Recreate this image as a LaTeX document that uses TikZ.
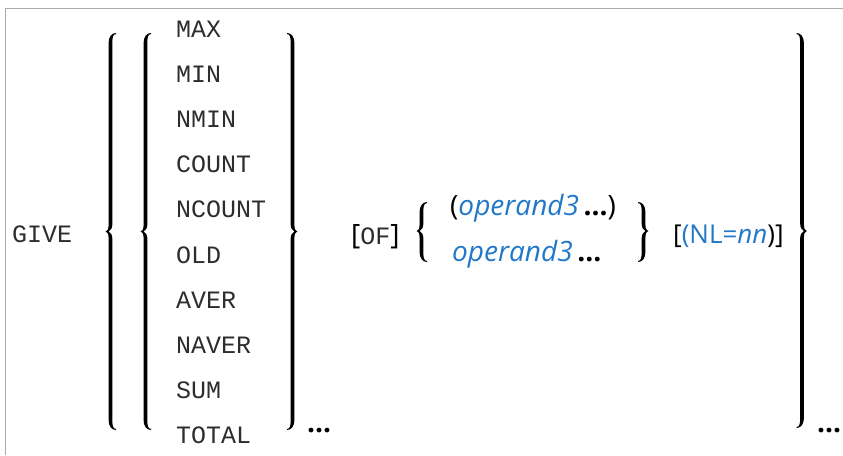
\documentclass[tikz,border=0pt]{standalone}
\usepackage{fontspec}
\setmainfont{Open Sans}
\newfontfamily\kwfont{Liberation Mono}
\newfontfamily\opfont{Open Sans}
\definecolor{opblue}{RGB}{33,120,200}
\definecolor{kwgray}{RGB}{45,45,45}
\definecolor{framegray}{RGB}{170,170,170}
\newcommand{\synbrace}[5]{%
\begin{scope}[shift={(#1,0)},xscale=#5]
\fill (5.5,#2) .. controls (1,#2) and (-1.9,#2+4) .. (-1.9,#2+10)
  -- (-1.9,#4-7) .. controls (-1.9,#4-2) and (-3,#4-0.5) .. (-4.8,#4)
  .. controls (-3,#4+0.5) and (-1.9,#4+2) .. (-1.9,#4+7)
  -- (-1.9,#3-10) .. controls (-1.9,#3-4) and (1,#3) .. (5.5,#3)
  -- (5.5,#3-0.9) .. controls (2,#3-1.5) and (1.9,#3-5) .. (1.9,#3-10)
  -- (1.9,#4+8) .. controls (1.9,#4+3) and (0,#4+0.8) .. (-2,#4)
  .. controls (0,#4-0.8) and (1.9,#4-3) .. (1.9,#4-8)
  -- (1.9,#2+10) .. controls (1.9,#2+5) and (2,#2+1.5) .. (5.5,#2+0.9) -- cycle;
\end{scope}}
\tikzset{
  kw/.style={anchor=base west,inner sep=0pt,text=kwgray,font=\kwfont\fontsize{25}{30}\selectfont},
  txt/.style={anchor=base west,inner sep=0pt,font=\opfont\fontsize{28}{32}\selectfont},
  nltxt/.style={anchor=base west,inner sep=0pt,font=\opfont\fontsize{26}{30}\selectfont},
  dots/.style={anchor=base west,inner sep=0pt,font=\opfont\bfseries\fontsize{28}{32}\selectfont}
}
\newcommand{\opd}{\textcolor{opblue}{\itshape operand3}}
\newcommand{\dts}{\textbf{...}}
\begin{document}
\begin{tikzpicture}[x=1pt,y=-1pt]
\useasboundingbox (0,0) rectangle (843,455);
\draw[framegray,line width=1.3pt] (5.7,455) -- (5.7,8.7) -- (843,8.7);
% GIVE
\node[kw] (give) at (12,242) {GIVE};
% braces
\synbrace{110.5}{33}{430}{231.5}{1}
\synbrace{145.5}{33}{430}{231.5}{1}
\synbrace{292.5}{33}{430}{231.5}{-1}
\synbrace{802}{33}{428}{231}{-1}
\synbrace{421.5}{202}{262}{231}{1}
\synbrace{643.5}{202}{262}{231}{-1}
% keywords
\foreach \w [count=\i from 0] in {MAX,MIN,NMIN,COUNT,NCOUNT,OLD,AVER,NAVER,SUM,TOTAL}
  \node[kw] (kw\i) at (176,37+45.2*\i) {\w};
\node[dots] (dotsa) at (307,432) {...};
\node[dots] (dotsb) at (817,432) {...};
% OF
\node[txt] (of) at (351,244) {[{\kwfont\fontsize{25}{30}\selectfont\color{kwgray}OF}]};
\node[txt] (op1) at (450,215.5) {(\opd\,\dts)};
\node[txt] (op2) at (452,261.5) {\opd\,\dts};
\node[nltxt] (nl) at (673,243) {[\textcolor{opblue}{(NL=\textit{nn}})]};
\end{tikzpicture}
\end{document}
